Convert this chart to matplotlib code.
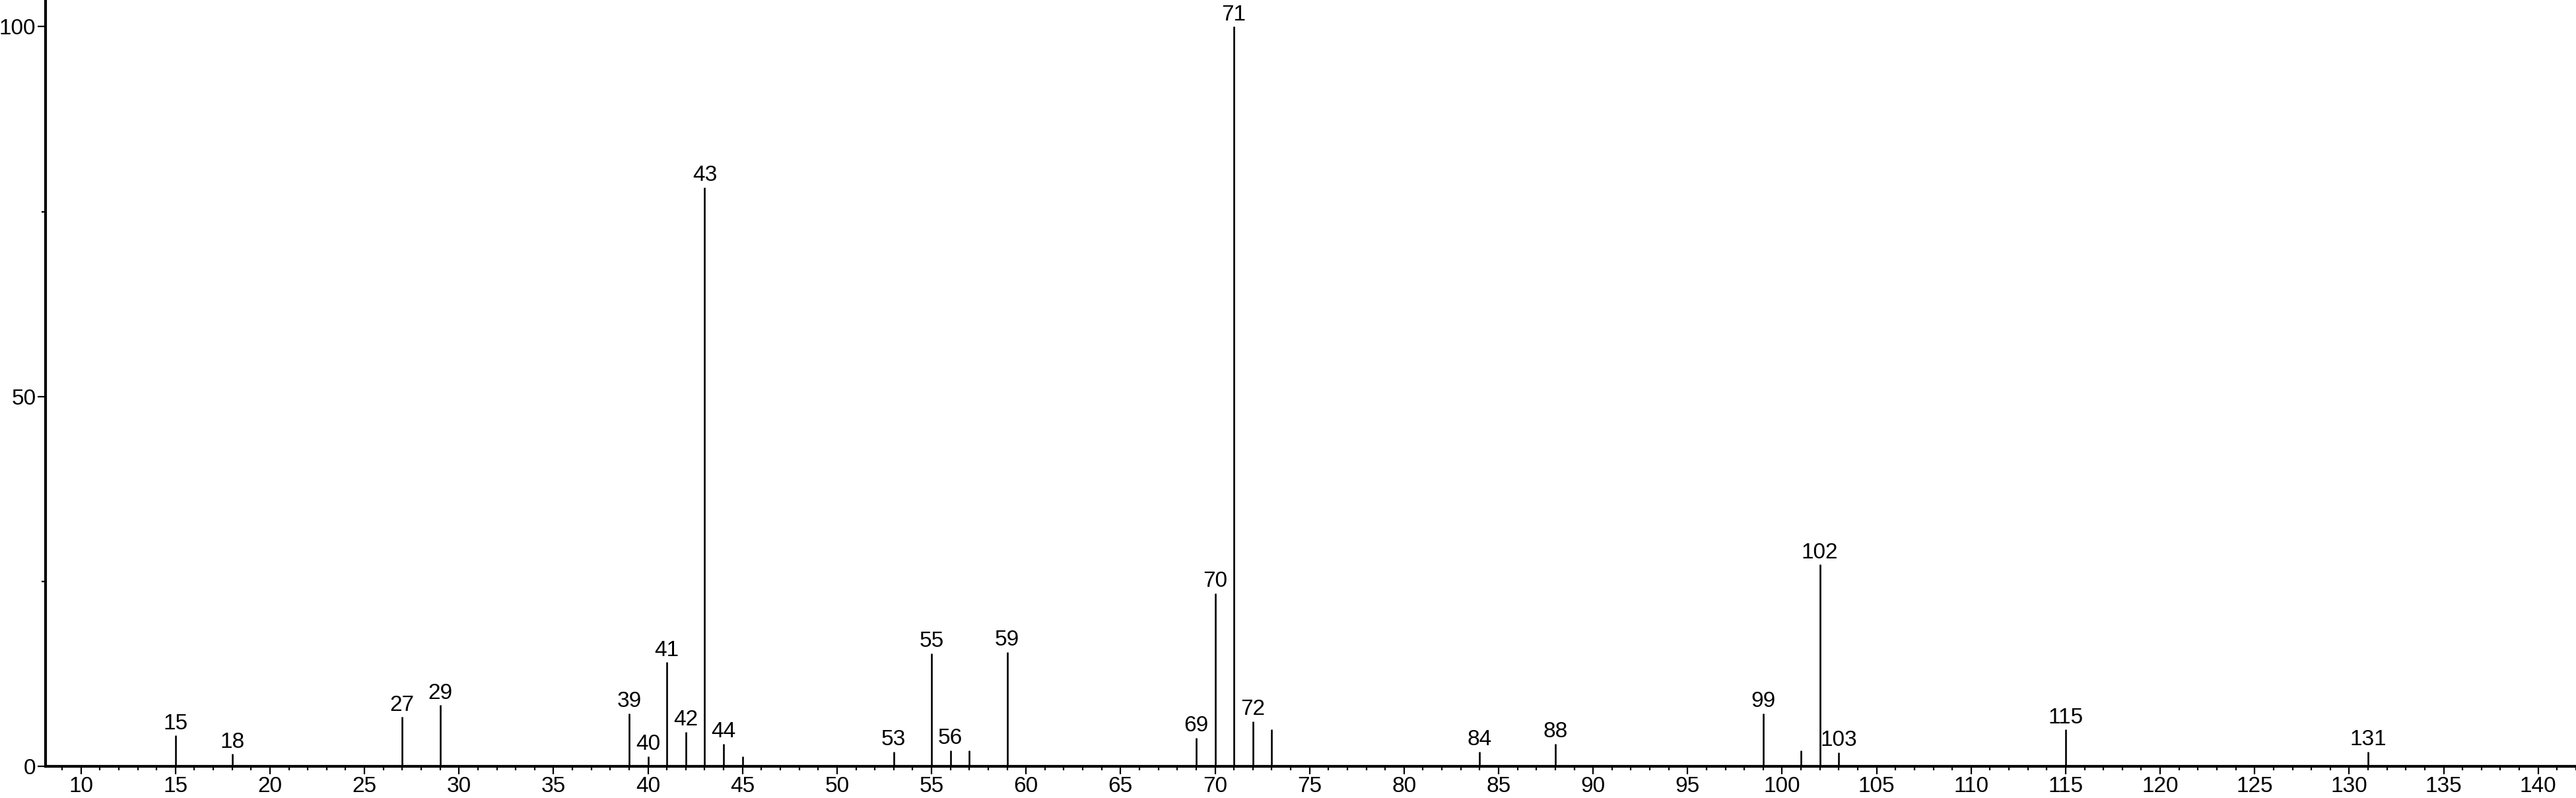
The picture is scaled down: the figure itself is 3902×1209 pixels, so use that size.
import matplotlib
matplotlib.use("Agg")
import matplotlib.pyplot as plt
from matplotlib.ticker import MultipleLocator

# m/z values and relative intensities
mz = [15, 18, 27, 29, 39, 40, 41, 42, 43, 44, 45, 53, 55, 56, 57, 59,
      69, 70, 71, 72, 73, 84, 88, 99, 101, 102, 103, 115, 131]
intensity = [4.2, 1.7, 6.7, 8.3, 7.2, 1.4, 14.1, 4.7, 78.3, 3.1, 1.4, 2.0, 15.3, 2.2, 2.2, 15.5,
             3.9, 23.4, 100.0, 6.1, 5.0, 2.0, 3.1, 7.2, 2.2, 27.3, 1.9, 5.0, 2.0]
# peaks that carry a label
labelled = [15, 18, 27, 29, 39, 40, 41, 42, 43, 44, 53, 55, 56, 59,
            69, 70, 71, 72, 84, 88, 99, 102, 103, 115, 131]

plt.rcParams['font.family'] = ['Liberation Sans', 'DejaVu Sans']

fig = plt.figure(figsize=(39.02, 12.09), dpi=100)
ax = fig.add_axes([0.0177, 0.0393, 1 - 0.0177, 1 - 0.0393])

ax.vlines(mz, 0, intensity, colors='black', linewidth=1.9)

for x, y in zip(mz, intensity):
    if x in labelled:
        ax.annotate(str(x), (x, y), xytext=(0, 2), textcoords='offset points',
                    ha='center', va='bottom', fontsize=24, color='black')

ax.set_xlim(8.13, 142.0)
ax.set_ylim(0, 103.6)

ax.xaxis.set_major_locator(MultipleLocator(5))
ax.xaxis.set_minor_locator(MultipleLocator(1))
ax.yaxis.set_major_locator(MultipleLocator(50))
ax.yaxis.set_minor_locator(MultipleLocator(25))

ax.tick_params(axis='both', which='major', direction='out', length=8.5, width=1.6,
               labelsize=24, pad=2, colors='black')
ax.tick_params(axis='both', which='minor', direction='out', length=4.3, width=1.6)

for side in ['top', 'right']:
    ax.spines[side].set_visible(False)
for side in ['left', 'bottom']:
    ax.spines[side].set_linewidth(3)
    ax.spines[side].set_color('black')

fig.savefig("out.png", dpi=100)
